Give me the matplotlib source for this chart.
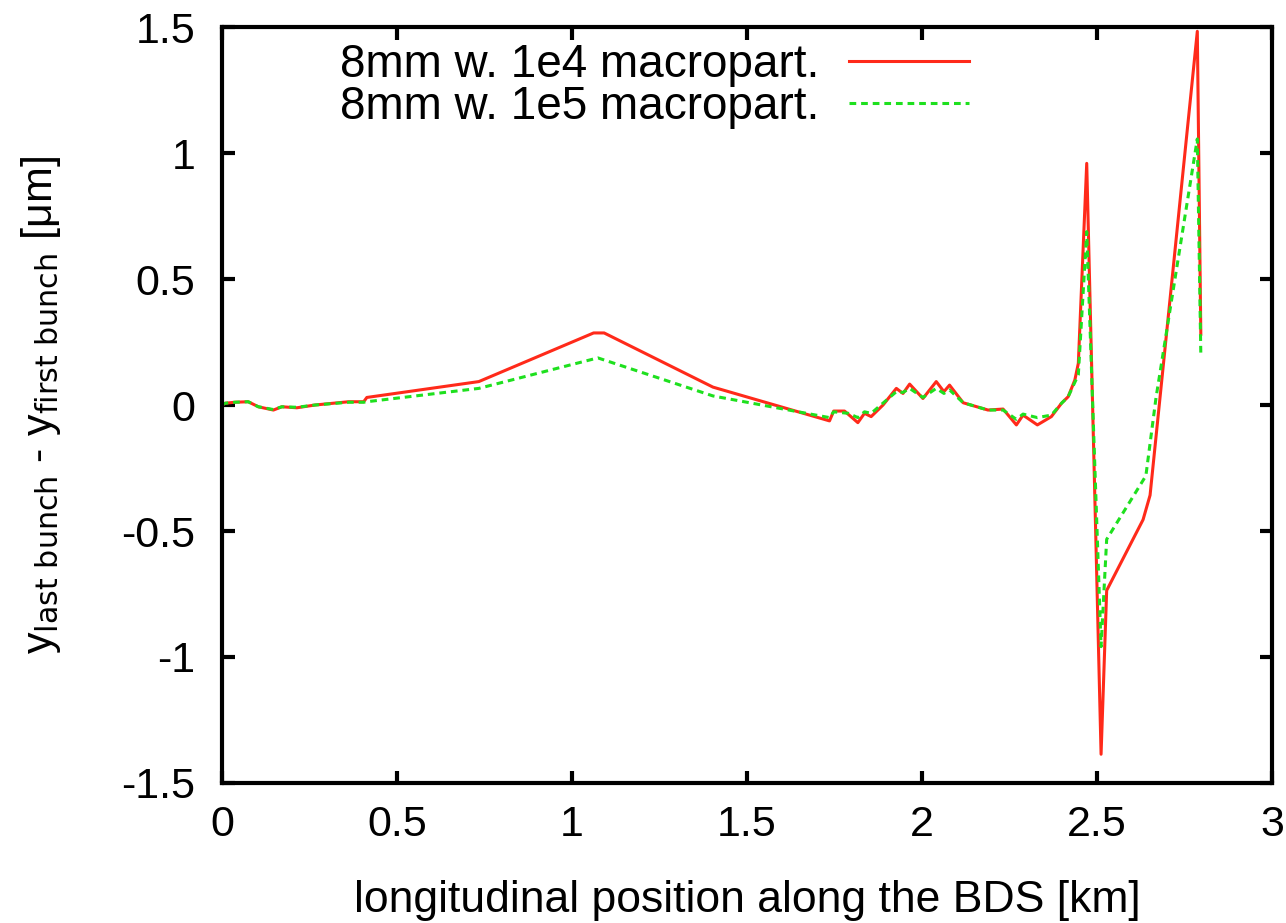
import matplotlib
matplotlib.use("Agg")
import matplotlib.pyplot as plt

# Position along the beam delivery system [km] and vertical offset difference [um]
x_1e4 = [0.0, 0.009, 0.037, 0.075, 0.104, 0.147, 0.171, 0.214, 0.266, 0.362,
         0.405, 0.414, 0.734, 1.062, 1.092, 1.403, 1.736, 1.748, 1.779, 1.817,
         1.836, 1.855, 1.889, 1.927, 1.946, 1.965, 2.003, 2.041, 2.063, 2.079,
         2.118, 2.189, 2.232, 2.270, 2.289, 2.330, 2.370, 2.399, 2.418, 2.437,
         2.447, 2.471, 2.512, 2.528, 2.632, 2.652, 2.787, 2.797]
y_1e4 = [0.0, 0.007, 0.011, 0.013, -0.007, -0.020, -0.007, -0.011, 0.0, 0.013,
         0.013, 0.030, 0.093, 0.286, 0.286, 0.071, -0.063, -0.024, -0.024, -0.070,
         -0.033, -0.046, 0.0, 0.066, 0.046, 0.083, 0.026, 0.093, 0.053, 0.079,
         0.009, -0.020, -0.016, -0.079, -0.040, -0.079, -0.046, 0.007, 0.033, 0.099,
         0.165, 0.959, -1.386, -0.736, -0.455, -0.358, 1.483, 0.281]

x_1e5 = [0.0, 0.009, 0.037, 0.075, 0.104, 0.147, 0.171, 0.214, 0.266, 0.362,
         0.405, 0.414, 0.734, 1.074, 1.403, 1.736, 1.748, 1.790, 1.817, 1.836,
         1.855, 1.927, 1.946, 1.965, 2.003, 2.041, 2.063, 2.079, 2.118, 2.189,
         2.232, 2.270, 2.289, 2.330, 2.370, 2.399, 2.418, 2.447, 2.471, 2.512,
         2.528, 2.640, 2.669, 2.787, 2.797]
y_1e5 = [0.0, 0.007, 0.011, 0.013, -0.007, -0.018, -0.007, -0.009, 0.0, 0.011,
         0.011, 0.013, 0.066, 0.187, 0.036, -0.050, -0.027, -0.033, -0.050, -0.027,
         -0.033, 0.053, 0.050, 0.066, 0.030, 0.066, 0.046, 0.060, 0.009, -0.020,
         -0.020, -0.057, -0.036, -0.050, -0.040, 0.007, 0.033, 0.120, 0.688, -0.959,
         -0.533, -0.281, 0.029, 1.056, 0.203]

labels = ["8mm w. 1e4 macropart.", "8mm w. 1e5 macropart."]
x_ticks = [0, 0.5, 1, 1.5, 2, 2.5, 3]
x_ticklabels = ["0", "0.5", "1", "1.5", "2", "2.5", "3"]
y_ticks = [-1.5, -1, -0.5, 0, 0.5, 1, 1.5]
y_ticklabels = ["-1.5", "-1", "-0.5", "0", "0.5", "1", "1.5"]

FS = 31

plt.rcParams["font.family"] = ["Liberation Sans", "DejaVu Sans"]
plt.rcParams["mathtext.default"] = "regular"

fig = plt.figure(figsize=(12.86, 9.23), dpi=100)
ax = fig.add_axes([0.1726, 0.1517, 0.8164, 0.8190])

ax.plot(x_1e4, y_1e4, color="#ff2a1a", lw=2.2, label=labels[0])
ax.plot(x_1e5, y_1e5, color="#1ee01e", lw=2.2, ls=(0, (2.2, 1.6)), label=labels[1])

ax.set_xlim(0, 3)
ax.set_ylim(-1.5, 1.5)
ax.set_xticks(x_ticks)
ax.set_xticklabels(x_ticklabels)
ax.set_yticks(y_ticks)
ax.set_yticklabels(y_ticklabels)

for side in ax.spines.values():
    side.set_linewidth(3)
ax.tick_params(direction="in", length=9, width=3, top=True, right=True,
               labelsize=FS)
ax.tick_params(axis="x", pad=16)
ax.tick_params(axis="y", pad=19)

ax.set_xlabel("longitudinal position along the BDS [km]", fontsize=32, labelpad=25)
ax.set_ylabel(r"y$_{\mathrm{last\ bunch}}$ - y$_{\mathrm{first\ bunch}}$ [$\mu$m]",
              fontsize=FS, labelpad=42)

leg = ax.legend(loc="upper right", bbox_to_anchor=(0.712, 0.979), frameon=False,
                markerfirst=False, fontsize=33, handlelength=2.62,
                handletextpad=0.65, labelspacing=-0.05, borderpad=0,
                borderaxespad=0)

fig.savefig("out.png", dpi=100)
